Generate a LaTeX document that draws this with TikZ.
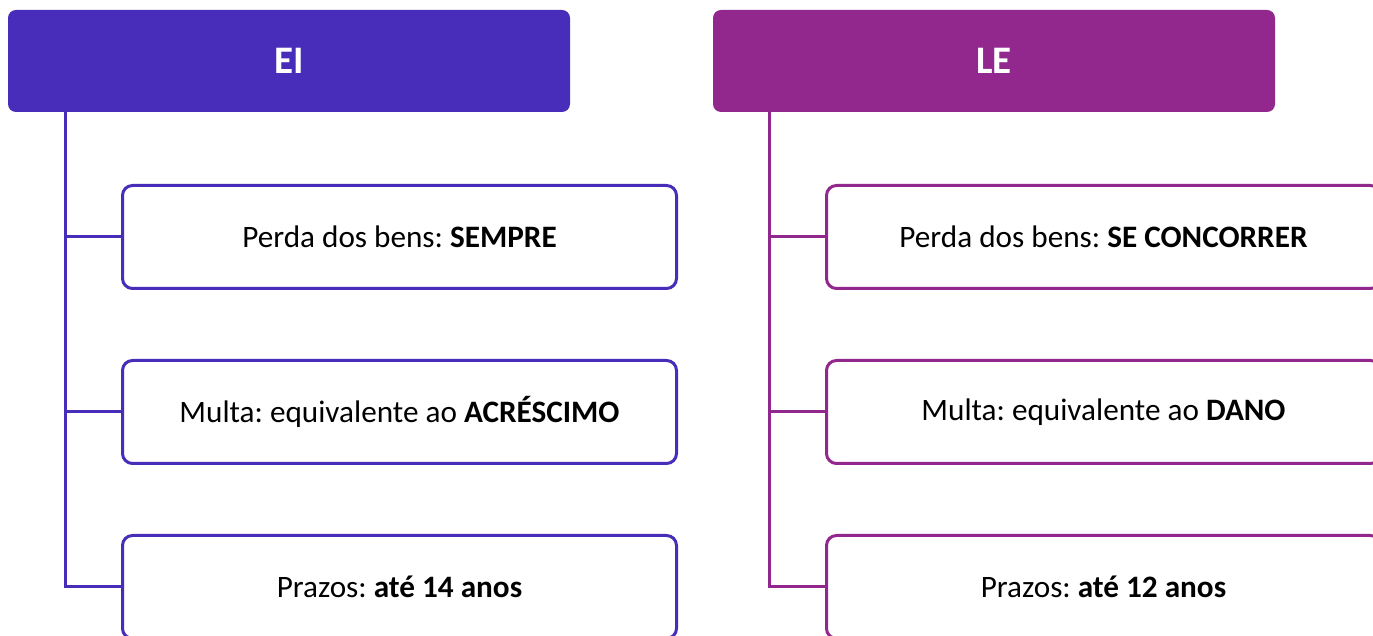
\documentclass[tikz,border=0pt]{standalone}
\usepackage{fontspec}
\setmainfont{Carlito}
\usetikzlibrary{arrows.meta}
\definecolor{eiblue}{RGB}{72,45,186}
\definecolor{lepurple}{RGB}{146,40,142}
\frenchspacing

\begin{document}
\begin{tikzpicture}[x = 0.5pt, y = 0.5pt,
			head/.style = {rounded corners = 4pt, minimum width = 281pt, minimum height = 51pt, inner sep = 0pt, text = white, font = \fontsize{19.5}{23}\selectfont\bfseries},
			item/.style = {draw, line width = 1.5pt, fill = white, rounded corners = 5pt, minimum width = 277pt, minimum height = 51.5pt, inner sep = 0pt, font = \fontsize{15.6}{18}\selectfont},
			link/.style = {line width = 1.5pt}]
			\useasboundingbox (0,0) rectangle (1373,636);
			\clip (0,0) rectangle (1373,636);
			\node (ei) at (289,575) [head, fill = eiblue] {EI};
			\node (le) at (994,575) [head, fill = lepurple] {LE};
			\node (ei1) at (399.5,399) [item, draw = eiblue] {Perda dos bens: \textbf{SEMPRE}};
			\node (ei2) at (399.5,224) [item, draw = eiblue] {Multa: equivalente ao \textbf{ACRÉSCIMO}};
			\node (ei3) at (399.5,49) [item, draw = eiblue] {Prazos: \textbf{até 14 anos}};
			\node (le1) at (1103.5,399) [item, draw = lepurple] {Perda dos bens: \textbf{SE CONCORRER}};
			\node (le2) at (1103.5,224) [item, draw = lepurple] {Multa: equivalente ao \textbf{DANO}};
			\node (le3) at (1103.5,49) [item, draw = lepurple] {Prazos: \textbf{até 12 anos}};
			\coordinate (eitop) at (65,524);
			\coordinate (letop) at (769,524);
			\draw [link, eiblue] (eitop) |- (ei1.west);
			\draw [link, eiblue] (eitop) |- (ei2.west);
			\draw [link, eiblue] (eitop) |- (ei3.west);
			\draw [link, lepurple] (letop) |- (le1.west);
			\draw [link, lepurple] (letop) |- (le2.west);
			\draw [link, lepurple] (letop) |- (le3.west);
			\end{tikzpicture}
\end{document}
